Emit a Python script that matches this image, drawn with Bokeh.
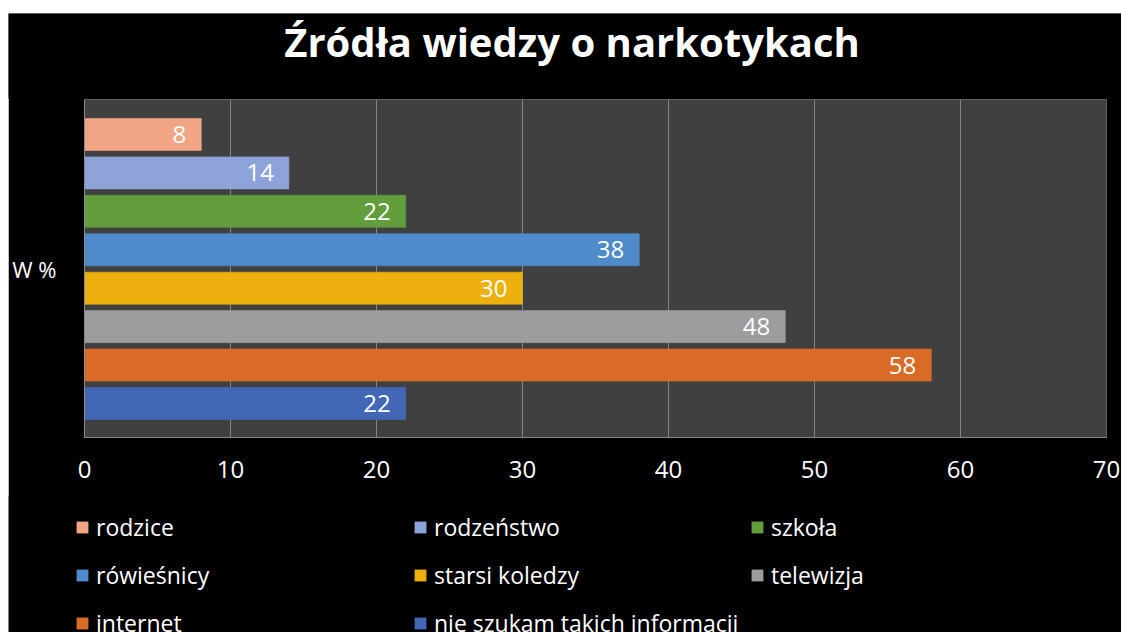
from bokeh.plotting import figure
from bokeh.models import (ColumnDataSource, Range1d, FixedTicker, Legend, LegendItem, Label)
from bokeh.core.properties import value
from bokeh.embed import file_html
from bokeh.resources import INLINE

title_text = "Źródła wiedzy o narkotykach"
axis_label = "W %"
categories = ["rodzice", "rodzeństwo", "szkoła", "rówieśnicy", "starsi koledzy",
              "telewizja", "internet", "nie szukam takich informacji"]
values = [8, 14, 22, 38, 30, 48, 58, 22]
colors = ["#F1A584", "#8EA3D9", "#629E3B", "#4D8BCA", "#EDB00E",
          "#9D9D9D", "#DA6B27", "#4167B6"]
x_ticks = [0, 10, 20, 30, 40, 50, 60, 70]

FONT = "Open Sans"
positions = list(range(len(categories)))

src = ColumnDataSource(dict(
    cat=categories, val=values, col=colors, pos=positions,
    lab=[str(v) for v in values],
))

# ---- main chart ----
p = figure(width=1113, height=484, output_backend="svg", toolbar_location=None,
           x_range=Range1d(0, 70), y_range=Range1d(7.885, -0.91),
           min_border_left=76, min_border_right=15, min_border_top=86,
           min_border_bottom=60,
           background_fill_color="#404040", border_fill_color="black",
           outline_line_color=None,
           styles={"position": "absolute", "left": "8px", "top": "13px"})

bars = p.hbar(y="pos", left=0, right="val", height=0.833, source=src,
              fill_color="col", line_color="col", line_alpha=0.6)
p.text(x="val", y="pos", text="lab", source=src, text_align="right",
       text_baseline="middle", x_offset=-15, text_color="white",
       text_font=value(FONT), text_font_size="24px")

p.xaxis.ticker = FixedTicker(ticks=x_ticks)
p.xaxis.major_tick_line_color = None
p.xaxis.minor_tick_line_color = None
p.xaxis.axis_line_color = "#8a8a8a"
p.xaxis.major_label_text_color = "white"
p.xaxis.major_label_text_font = FONT
p.xaxis.major_label_text_font_size = "24px"
p.xaxis.major_label_standoff = 17

p.yaxis.ticker = FixedTicker(ticks=[3.5])
p.yaxis.major_label_overrides = {3.5: axis_label}
p.yaxis.major_tick_line_color = None
p.yaxis.minor_tick_line_color = None
p.yaxis.axis_line_color = "#8a8a8a"
p.yaxis.major_label_text_color = "white"
p.yaxis.major_label_text_font = FONT
p.yaxis.major_label_text_font_size = "22px"
p.yaxis.major_label_standoff = 22

p.xgrid.ticker = FixedTicker(ticks=x_ticks[1:])
p.xgrid.grid_line_color = "#858585"
p.ygrid.grid_line_color = None

# ---- title strip (drawn over the chart's top border) ----
tfig = figure(width=1113, height=86, output_backend="svg", toolbar_location=None,
              x_range=Range1d(0, 1113), y_range=Range1d(86, 0),
              x_axis_location=None, y_axis_location=None,
              min_border=0, background_fill_color="black", border_fill_color="black",
              outline_line_color=None,
              styles={"position": "absolute", "left": "8px", "top": "13px"})
tfig.grid.grid_line_color = None
tfig.add_layout(Label(x=563.5, y=28, text=title_text, text_align="center",
                      text_baseline="alphabetic", text_color="white",
                      text_font=FONT, text_font_style="bold",
                      text_font_size="40px"))

# ---- legend strip below the chart ----
leg = figure(width=1113, height=136, output_backend="svg", toolbar_location=None,
             x_range=Range1d(1000, 1001), y_range=Range1d(100, 101),
             x_axis_location=None, y_axis_location=None,
             min_border=0, background_fill_color="black", border_fill_color="black",
             outline_line_color=None,
             styles={"position": "absolute", "left": "8px", "top": "496px"})
leg.grid.grid_line_color = None
lbars = leg.hbar(y="pos", left=0, right="val", height=0.833, source=src,
                 fill_color="col", line_color="col", line_alpha=0.6)

cols = [[0, 3, 6], [1, 4, 7], [2, 5]]
xs = [67, 405, 742]
h, s = 32, 16
for idxs, x in zip(cols, xs):
    items = [LegendItem(label=categories[i], renderers=[lbars], index=i) for i in idxs]
    n = len(idxs)
    height = n * h + (n - 1) * s
    y = 136 - 15 - height
    lg = Legend(items=items, location=(x, y), orientation="vertical",
                margin=0, padding=0, border_line_color=None,
                background_fill_alpha=0,
                glyph_width=14, glyph_height=14, label_height=h,
                label_standoff=7, spacing=s,
                label_text_color="white", label_text_font=FONT,
                label_text_font_size="23px")
    leg.add_layout(lg, "center")

open("out.html", "w").write(file_html([p, tfig, leg], INLINE))
